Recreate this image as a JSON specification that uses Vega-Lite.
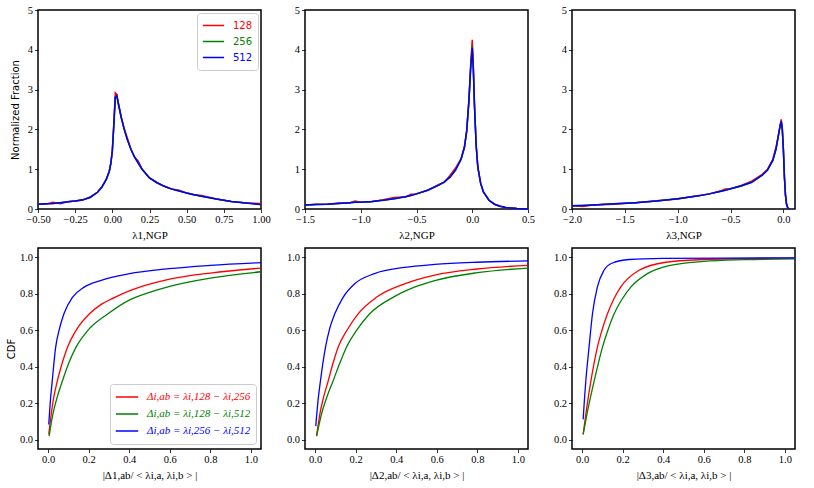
{
  "$schema": "https://vega.github.io/schema/vega-lite/v6.json",
  "padding": {"left": 5, "top": 4, "right": 5, "bottom": 5},
  "spacing": 6,
  "resolve": {"scale": {"x": "independent", "y": "independent", "color": "independent"}, "legend": {"color": "independent"}},
  "vconcat": [
    {
      "spacing": 44,
      "bounds": "flush",
      "resolve": {"scale": {"x": "independent", "y": "independent", "color": "independent"}, "legend": {"color": "independent"}},
      "hconcat": [
        {
          "width": 223, "height": 199,
          "data": {"values": [
            {"x": -0.5, "r": 0.12, "g": 0.12, "b": 0.12},
            {"x": -0.45, "r": 0.12, "g": 0.13, "b": 0.13},
            {"x": -0.4, "r": 0.17, "g": 0.14, "b": 0.14},
            {"x": -0.35, "r": 0.13, "g": 0.16, "b": 0.16},
            {"x": -0.3, "r": 0.18, "g": 0.18, "b": 0.18},
            {"x": -0.25, "r": 0.2, "g": 0.2, "b": 0.2},
            {"x": -0.2, "r": 0.22, "g": 0.23, "b": 0.23},
            {"x": -0.15, "r": 0.3, "g": 0.29, "b": 0.29},
            {"x": -0.1, "r": 0.42, "g": 0.42, "b": 0.42},
            {"x": -0.07, "r": 0.56, "g": 0.55, "b": 0.55},
            {"x": -0.04, "r": 0.75, "g": 0.75, "b": 0.75},
            {"x": -0.02, "r": 0.97, "g": 0.95, "b": 0.95},
            {"x": -0.01, "r": 1.15, "g": 1.15, "b": 1.15},
            {"x": 0.0, "r": 1.48, "g": 1.45, "b": 1.45},
            {"x": 0.01, "r": 2.15, "g": 2.1, "b": 2.1},
            {"x": 0.02, "r": 2.92, "g": 2.82, "b": 2.8},
            {"x": 0.03, "r": 2.88, "g": 2.85, "b": 2.85},
            {"x": 0.04, "r": 2.68, "g": 2.65, "b": 2.65},
            {"x": 0.06, "r": 2.3, "g": 2.3, "b": 2.3},
            {"x": 0.08, "r": 2.02, "g": 2.0, "b": 2.0},
            {"x": 0.1, "r": 1.8, "g": 1.75, "b": 1.75},
            {"x": 0.125, "r": 1.5, "g": 1.5, "b": 1.5},
            {"x": 0.15, "r": 1.3, "g": 1.3, "b": 1.3},
            {"x": 0.175, "r": 1.2, "g": 1.15, "b": 1.15},
            {"x": 0.2, "r": 1.0, "g": 1.0, "b": 1.0},
            {"x": 0.25, "r": 0.78, "g": 0.78, "b": 0.78},
            {"x": 0.3, "r": 0.67, "g": 0.66, "b": 0.66},
            {"x": 0.35, "r": 0.57, "g": 0.57, "b": 0.57},
            {"x": 0.4, "r": 0.5, "g": 0.5, "b": 0.5},
            {"x": 0.45, "r": 0.47, "g": 0.45, "b": 0.45},
            {"x": 0.5, "r": 0.4, "g": 0.4, "b": 0.4},
            {"x": 0.55, "r": 0.36, "g": 0.36, "b": 0.36},
            {"x": 0.6, "r": 0.34, "g": 0.32, "b": 0.32},
            {"x": 0.7, "r": 0.25, "g": 0.25, "b": 0.25},
            {"x": 0.8, "r": 0.19, "g": 0.19, "b": 0.19},
            {"x": 0.9, "r": 0.15, "g": 0.15, "b": 0.15},
            {"x": 1.0, "r": 0.14, "g": 0.11, "b": 0.11}
          ]},
          "transform": [{"fold": ["r", "g", "b"], "as": ["s", "y"]}],
          "mark": {"type": "line", "strokeWidth": 1.5},
          "encoding": {
            "x": {"field": "x", "type": "quantitative", "scale": {"domain": [-0.5, 1.0], "nice": false, "zero": false},
                  "axis": {"values": [-0.5, -0.25, 0, 0.25, 0.5, 0.75, 1.0], "format": ".2f", "title": "λ1,NGP"}},
            "y": {"field": "y", "type": "quantitative", "scale": {"domain": [0, 5], "nice": false},
                  "axis": {"values": [0, 1, 2, 3, 4, 5], "format": "d", "title": "Normalized Fraction", "titleFont": "DejaVu Sans", "titleFontSize": 10, "titlePadding": 7}},
            "color": {"field": "s", "type": "nominal", "scale": {"domain": ["r", "g", "b"], "range": ["#ff0000", "#008000", "#0000ff"]},
                      "legend": {"orient": "top-right", "offset": 3, "title": null, "symbolSize": 450,
                                 "labelExpr": "datum.label == 'r' ? '128' : datum.label == 'g' ? '256' : '512'",
                                 "labelFont": "DejaVu Sans", "labelFontSize": 10,
                                 "encode": {"labels": {"update": {"fill": {"signal": "datum.value == 'r' ? '#ff0000' : datum.value == 'g' ? '#008000' : '#0000ff'"}}}}}}
          }
        },
        {
          "width": 223, "height": 199,
          "data": {"values": [
            {"x": -1.5, "r": 0.1, "g": 0.1, "b": 0.1},
            {"x": -1.4, "r": 0.12, "g": 0.11, "b": 0.11},
            {"x": -1.3, "r": 0.12, "g": 0.12, "b": 0.12},
            {"x": -1.2, "r": 0.15, "g": 0.14, "b": 0.14},
            {"x": -1.1, "r": 0.15, "g": 0.16, "b": 0.16},
            {"x": -1.05, "r": 0.2, "g": 0.17, "b": 0.17},
            {"x": -1.0, "r": 0.17, "g": 0.17, "b": 0.17},
            {"x": -0.9, "r": 0.18, "g": 0.19, "b": 0.19},
            {"x": -0.8, "r": 0.23, "g": 0.22, "b": 0.22},
            {"x": -0.7, "r": 0.29, "g": 0.26, "b": 0.26},
            {"x": -0.6, "r": 0.3, "g": 0.31, "b": 0.31},
            {"x": -0.55, "r": 0.37, "g": 0.34, "b": 0.34},
            {"x": -0.5, "r": 0.38, "g": 0.38, "b": 0.38},
            {"x": -0.4, "r": 0.47, "g": 0.47, "b": 0.47},
            {"x": -0.3, "r": 0.62, "g": 0.6, "b": 0.6},
            {"x": -0.25, "r": 0.67, "g": 0.68, "b": 0.68},
            {"x": -0.2, "r": 0.84, "g": 0.8, "b": 0.8},
            {"x": -0.15, "r": 1.03, "g": 0.98, "b": 0.98},
            {"x": -0.1, "r": 1.27, "g": 1.25, "b": 1.25},
            {"x": -0.07, "r": 1.57, "g": 1.55, "b": 1.55},
            {"x": -0.05, "r": 1.97, "g": 1.95, "b": 1.95},
            {"x": -0.03, "r": 2.75, "g": 2.7, "b": 2.7},
            {"x": -0.015, "r": 3.6, "g": 3.5, "b": 3.5},
            {"x": 0.0, "r": 4.25, "g": 4.1, "b": 4.05},
            {"x": 0.01, "r": 3.55, "g": 3.5, "b": 3.5},
            {"x": 0.02, "r": 2.62, "g": 2.6, "b": 2.6},
            {"x": 0.035, "r": 1.6, "g": 1.6, "b": 1.6},
            {"x": 0.05, "r": 1.05, "g": 1.05, "b": 1.05},
            {"x": 0.075, "r": 0.65, "g": 0.65, "b": 0.65},
            {"x": 0.1, "r": 0.43, "g": 0.43, "b": 0.43},
            {"x": 0.15, "r": 0.22, "g": 0.22, "b": 0.22},
            {"x": 0.2, "r": 0.12, "g": 0.12, "b": 0.12},
            {"x": 0.25, "r": 0.07, "g": 0.07, "b": 0.07},
            {"x": 0.3, "r": 0.04, "g": 0.04, "b": 0.04},
            {"x": 0.4, "r": 0.01, "g": 0.01, "b": 0.01},
            {"x": 0.5, "r": 0.0, "g": 0.0, "b": 0.0}
          ]},
          "transform": [{"fold": ["r", "g", "b"], "as": ["s", "y"]}],
          "mark": {"type": "line", "strokeWidth": 1.5},
          "encoding": {
            "x": {"field": "x", "type": "quantitative", "scale": {"domain": [-1.5, 0.5], "nice": false, "zero": false},
                  "axis": {"values": [-1.5, -1.0, -0.5, 0, 0.5], "format": ".1f", "title": "λ2,NGP"}},
            "y": {"field": "y", "type": "quantitative", "scale": {"domain": [0, 5], "nice": false},
                  "axis": {"values": [0, 1, 2, 3, 4, 5], "format": "d", "title": null}},
            "color": {"field": "s", "type": "nominal", "scale": {"domain": ["r", "g", "b"], "range": ["#ff0000", "#008000", "#0000ff"]}, "legend": null}
          }
        },
        {
          "width": 223, "height": 199,
          "data": {"values": [
            {"x": -2.0, "r": 0.08, "g": 0.08, "b": 0.08},
            {"x": -1.9, "r": 0.06, "g": 0.09, "b": 0.09},
            {"x": -1.8, "r": 0.1, "g": 0.1, "b": 0.1},
            {"x": -1.6, "r": 0.12, "g": 0.13, "b": 0.13},
            {"x": -1.4, "r": 0.16, "g": 0.16, "b": 0.16},
            {"x": -1.2, "r": 0.21, "g": 0.2, "b": 0.2},
            {"x": -1.0, "r": 0.25, "g": 0.26, "b": 0.26},
            {"x": -0.8, "r": 0.34, "g": 0.33, "b": 0.33},
            {"x": -0.7, "r": 0.38, "g": 0.38, "b": 0.38},
            {"x": -0.6, "r": 0.45, "g": 0.44, "b": 0.44},
            {"x": -0.55, "r": 0.5, "g": 0.47, "b": 0.47},
            {"x": -0.5, "r": 0.51, "g": 0.51, "b": 0.51},
            {"x": -0.4, "r": 0.59, "g": 0.58, "b": 0.58},
            {"x": -0.3, "r": 0.7, "g": 0.67, "b": 0.67},
            {"x": -0.2, "r": 0.87, "g": 0.85, "b": 0.85},
            {"x": -0.15, "r": 1.0, "g": 0.98, "b": 0.98},
            {"x": -0.1, "r": 1.25, "g": 1.22, "b": 1.22},
            {"x": -0.07, "r": 1.55, "g": 1.5, "b": 1.5},
            {"x": -0.05, "r": 1.82, "g": 1.8, "b": 1.8},
            {"x": -0.03, "r": 2.12, "g": 2.1, "b": 2.1},
            {"x": -0.02, "r": 2.25, "g": 2.2, "b": 2.2},
            {"x": -0.01, "r": 2.0, "g": 2.0, "b": 2.0},
            {"x": 0.0, "r": 1.5, "g": 1.5, "b": 1.5},
            {"x": 0.01, "r": 0.8, "g": 0.8, "b": 0.8},
            {"x": 0.02, "r": 0.35, "g": 0.35, "b": 0.35},
            {"x": 0.03, "r": 0.12, "g": 0.12, "b": 0.12},
            {"x": 0.04, "r": 0.04, "g": 0.04, "b": 0.04},
            {"x": 0.05, "r": 0.01, "g": 0.01, "b": 0.01},
            {"x": 0.06, "r": 0.0, "g": 0.0, "b": 0.0}
          ]},
          "transform": [{"fold": ["r", "g", "b"], "as": ["s", "y"]}],
          "mark": {"type": "line", "strokeWidth": 1.5},
          "encoding": {
            "x": {"field": "x", "type": "quantitative", "scale": {"domain": [-2.0, 0.11], "nice": false, "zero": false},
                  "axis": {"values": [-2.0, -1.5, -1.0, -0.5, 0], "format": ".1f", "title": "λ3,NGP"}},
            "y": {"field": "y", "type": "quantitative", "scale": {"domain": [0, 5], "nice": false},
                  "axis": {"values": [0, 1, 2, 3, 4, 5], "format": "d", "title": null}},
            "color": {"field": "s", "type": "nominal", "scale": {"domain": ["r", "g", "b"], "range": ["#ff0000", "#008000", "#0000ff"]}, "legend": null}
          }
        }
      ]
    },
    {
      "spacing": 44,
      "bounds": "flush",
      "resolve": {"scale": {"x": "independent", "y": "independent", "color": "independent"}, "legend": {"color": "independent"}},
      "hconcat": [
        {
          "width": 223, "height": 201,
          "data": {"values": [
            {"s": "r", "x": 0.003, "y": 0.03}, {"s": "r", "x": 0.015, "y": 0.139}, {"s": "r", "x": 0.028, "y": 0.235},
            {"s": "r", "x": 0.045, "y": 0.321}, {"s": "r", "x": 0.068, "y": 0.415}, {"s": "r", "x": 0.095, "y": 0.506},
            {"s": "r", "x": 0.137, "y": 0.598}, {"s": "r", "x": 0.204, "y": 0.69}, {"s": "r", "x": 0.26, "y": 0.74},
            {"s": "r", "x": 0.329, "y": 0.78}, {"s": "r", "x": 0.4, "y": 0.815}, {"s": "r", "x": 0.5, "y": 0.852},
            {"s": "r", "x": 0.6, "y": 0.88}, {"s": "r", "x": 0.8, "y": 0.913}, {"s": "r", "x": 1.05, "y": 0.94},
            {"s": "g", "x": 0.005, "y": 0.02}, {"s": "g", "x": 0.023, "y": 0.139}, {"s": "g", "x": 0.045, "y": 0.235},
            {"s": "g", "x": 0.07, "y": 0.321}, {"s": "g", "x": 0.1, "y": 0.415}, {"s": "g", "x": 0.137, "y": 0.506},
            {"s": "g", "x": 0.195, "y": 0.598}, {"s": "g", "x": 0.295, "y": 0.69}, {"s": "g", "x": 0.4, "y": 0.765},
            {"s": "g", "x": 0.5, "y": 0.807}, {"s": "g", "x": 0.6, "y": 0.84}, {"s": "g", "x": 0.8, "y": 0.885},
            {"s": "g", "x": 1.05, "y": 0.92},
            {"s": "b", "x": 0.003, "y": 0.084}, {"s": "b", "x": 0.01, "y": 0.2}, {"s": "b", "x": 0.02, "y": 0.32},
            {"s": "b", "x": 0.037, "y": 0.506}, {"s": "b", "x": 0.055, "y": 0.605}, {"s": "b", "x": 0.078, "y": 0.69},
            {"s": "b", "x": 0.12, "y": 0.78}, {"s": "b", "x": 0.178, "y": 0.836}, {"s": "b", "x": 0.262, "y": 0.873},
            {"s": "b", "x": 0.395, "y": 0.908}, {"s": "b", "x": 0.596, "y": 0.937}, {"s": "b", "x": 0.8, "y": 0.955},
            {"s": "b", "x": 1.05, "y": 0.97}
          ]},
          "mark": {"type": "line", "strokeWidth": 1.3, "interpolate": "monotone"},
          "encoding": {
            "x": {"field": "x", "type": "quantitative", "scale": {"domain": [-0.05, 1.05], "nice": false, "zero": false},
                  "axis": {"values": [0, 0.2, 0.4, 0.6, 0.8, 1.0], "format": ".1f", "title": "|Δ1,ab/ < λi,a, λi,b > |"}},
            "y": {"field": "y", "type": "quantitative", "scale": {"domain": [-0.05, 1.05], "nice": false, "zero": false},
                  "axis": {"values": [0, 0.2, 0.4, 0.6, 0.8, 1.0], "format": ".1f", "title": "CDF", "titleFont": "DejaVu Sans", "titleFontSize": 10, "titlePadding": 3}},
            "color": {"field": "s", "type": "nominal", "scale": {"domain": ["r", "g", "b"], "range": ["#ff0000", "#008000", "#0000ff"]},
                      "legend": {"orient": "bottom-right", "offset": 5, "title": null,
                                 "labelExpr": "datum.label == 'r' ? 'Δi,ab = λi,128 − λi,256' : datum.label == 'g' ? 'Δi,ab = λi,128 − λi,512' : 'Δi,ab = λi,256 − λi,512'",
                                 "labelFont": "Liberation Serif", "labelFontSize": 11, "labelFontStyle": "italic", "clipHeight": 16,
                                 "encode": {"labels": {"update": {"fill": {"signal": "datum.value == 'r' ? '#ff0000' : datum.value == 'g' ? '#008000' : '#0000ff'"}}}}}}
          }
        },
        {
          "width": 223, "height": 201,
          "data": {"values": [
            {"s": "r", "x": 0.007, "y": 0.02}, {"s": "r", "x": 0.023, "y": 0.139}, {"s": "r", "x": 0.042, "y": 0.235},
            {"s": "r", "x": 0.064, "y": 0.321}, {"s": "r", "x": 0.087, "y": 0.415}, {"s": "r", "x": 0.113, "y": 0.506},
            {"s": "r", "x": 0.157, "y": 0.6}, {"s": "r", "x": 0.212, "y": 0.69}, {"s": "r", "x": 0.302, "y": 0.78},
            {"s": "r", "x": 0.441, "y": 0.854}, {"s": "r", "x": 0.59, "y": 0.902}, {"s": "r", "x": 0.8, "y": 0.935},
            {"s": "r", "x": 1.05, "y": 0.955},
            {"s": "g", "x": 0.007, "y": 0.02}, {"s": "g", "x": 0.031, "y": 0.139}, {"s": "g", "x": 0.058, "y": 0.235},
            {"s": "g", "x": 0.088, "y": 0.321}, {"s": "g", "x": 0.12, "y": 0.415}, {"s": "g", "x": 0.154, "y": 0.506},
            {"s": "g", "x": 0.205, "y": 0.6}, {"s": "g", "x": 0.269, "y": 0.69}, {"s": "g", "x": 0.384, "y": 0.78},
            {"s": "g", "x": 0.49, "y": 0.836}, {"s": "g", "x": 0.59, "y": 0.872}, {"s": "g", "x": 0.8, "y": 0.915},
            {"s": "g", "x": 1.05, "y": 0.94},
            {"s": "b", "x": 0.003, "y": 0.075}, {"s": "b", "x": 0.013, "y": 0.2}, {"s": "b", "x": 0.026, "y": 0.321},
            {"s": "b", "x": 0.051, "y": 0.506}, {"s": "b", "x": 0.072, "y": 0.61}, {"s": "b", "x": 0.097, "y": 0.69},
            {"s": "b", "x": 0.138, "y": 0.78}, {"s": "b", "x": 0.195, "y": 0.854}, {"s": "b", "x": 0.293, "y": 0.91},
            {"s": "b", "x": 0.441, "y": 0.944}, {"s": "b", "x": 0.59, "y": 0.96}, {"s": "b", "x": 0.8, "y": 0.972},
            {"s": "b", "x": 1.05, "y": 0.98}
          ]},
          "mark": {"type": "line", "strokeWidth": 1.3, "interpolate": "monotone"},
          "encoding": {
            "x": {"field": "x", "type": "quantitative", "scale": {"domain": [-0.05, 1.05], "nice": false, "zero": false},
                  "axis": {"values": [0, 0.2, 0.4, 0.6, 0.8, 1.0], "format": ".1f", "title": "|Δ2,ab/ < λi,a, λi,b > |"}},
            "y": {"field": "y", "type": "quantitative", "scale": {"domain": [-0.05, 1.05], "nice": false, "zero": false},
                  "axis": {"values": [0, 0.2, 0.4, 0.6, 0.8, 1.0], "format": ".1f", "title": null}},
            "color": {"field": "s", "type": "nominal", "scale": {"domain": ["r", "g", "b"], "range": ["#ff0000", "#008000", "#0000ff"]}, "legend": null}
          }
        },
        {
          "width": 223, "height": 201,
          "data": {"values": [
            {"s": "r", "x": 0.005, "y": 0.03}, {"s": "r", "x": 0.02, "y": 0.155}, {"s": "r", "x": 0.043, "y": 0.321},
            {"s": "r", "x": 0.058, "y": 0.415}, {"s": "r", "x": 0.075, "y": 0.506}, {"s": "r", "x": 0.098, "y": 0.6},
            {"s": "r", "x": 0.125, "y": 0.69}, {"s": "r", "x": 0.155, "y": 0.768}, {"s": "r", "x": 0.19, "y": 0.836},
            {"s": "r", "x": 0.281, "y": 0.928}, {"s": "r", "x": 0.413, "y": 0.972}, {"s": "r", "x": 0.6, "y": 0.987},
            {"s": "r", "x": 0.8, "y": 0.992}, {"s": "r", "x": 1.05, "y": 0.995},
            {"s": "g", "x": 0.005, "y": 0.03}, {"s": "g", "x": 0.025, "y": 0.148}, {"s": "g", "x": 0.059, "y": 0.321},
            {"s": "g", "x": 0.079, "y": 0.415}, {"s": "g", "x": 0.1, "y": 0.506}, {"s": "g", "x": 0.127, "y": 0.6},
            {"s": "g", "x": 0.158, "y": 0.69}, {"s": "g", "x": 0.196, "y": 0.768}, {"s": "g", "x": 0.24, "y": 0.836},
            {"s": "g", "x": 0.322, "y": 0.91}, {"s": "g", "x": 0.429, "y": 0.954}, {"s": "g", "x": 0.6, "y": 0.977},
            {"s": "g", "x": 0.8, "y": 0.986}, {"s": "g", "x": 1.05, "y": 0.99},
            {"s": "b", "x": 0.005, "y": 0.112}, {"s": "b", "x": 0.011, "y": 0.215}, {"s": "b", "x": 0.018, "y": 0.321},
            {"s": "b", "x": 0.034, "y": 0.506}, {"s": "b", "x": 0.051, "y": 0.69}, {"s": "b", "x": 0.075, "y": 0.836},
            {"s": "b", "x": 0.108, "y": 0.928}, {"s": "b", "x": 0.149, "y": 0.968}, {"s": "b", "x": 0.232, "y": 0.987},
            {"s": "b", "x": 0.4, "y": 0.993}, {"s": "b", "x": 0.7, "y": 0.995}, {"s": "b", "x": 1.05, "y": 0.996}
          ]},
          "mark": {"type": "line", "strokeWidth": 1.3, "interpolate": "monotone"},
          "encoding": {
            "x": {"field": "x", "type": "quantitative", "scale": {"domain": [-0.05, 1.05], "nice": false, "zero": false},
                  "axis": {"values": [0, 0.2, 0.4, 0.6, 0.8, 1.0], "format": ".1f", "title": "|Δ3,ab/ < λi,a, λi,b > |"}},
            "y": {"field": "y", "type": "quantitative", "scale": {"domain": [-0.05, 1.05], "nice": false, "zero": false},
                  "axis": {"values": [0, 0.2, 0.4, 0.6, 0.8, 1.0], "format": ".1f", "title": null}},
            "color": {"field": "s", "type": "nominal", "scale": {"domain": ["r", "g", "b"], "range": ["#ff0000", "#008000", "#0000ff"]}, "legend": null}
          }
        }
      ]
    }
  ],
  "config": {
    "view": {"stroke": "#000000", "strokeWidth": 1.5},
    "axis": {"grid": false, "domain": false, "ticks": true, "tickColor": "#000000", "tickSize": 3.5, "tickWidth": 0.8,
             "labelFont": "Liberation Serif", "labelFontSize": 10.5, "labelColor": "#000000", "labelPadding": 2,
             "labelFlush": false, "labelOverlap": false, "labelBound": false,
             "titleFont": "Liberation Serif", "titleFontSize": 11, "titleFontWeight": "normal", "titleColor": "#000000", "titlePadding": 4},
    "legend": {"symbolType": "stroke", "symbolSize": 500, "symbolStrokeWidth": 1.5, "labelOffset": 8,
               "strokeColor": "#cccccc", "fillColor": "rgba(255,255,255,0.8)", "cornerRadius": 3, "padding": 5,
               "clipHeight": 15, "rowPadding": 1, "labelColor": "#000000"}
  }
}
